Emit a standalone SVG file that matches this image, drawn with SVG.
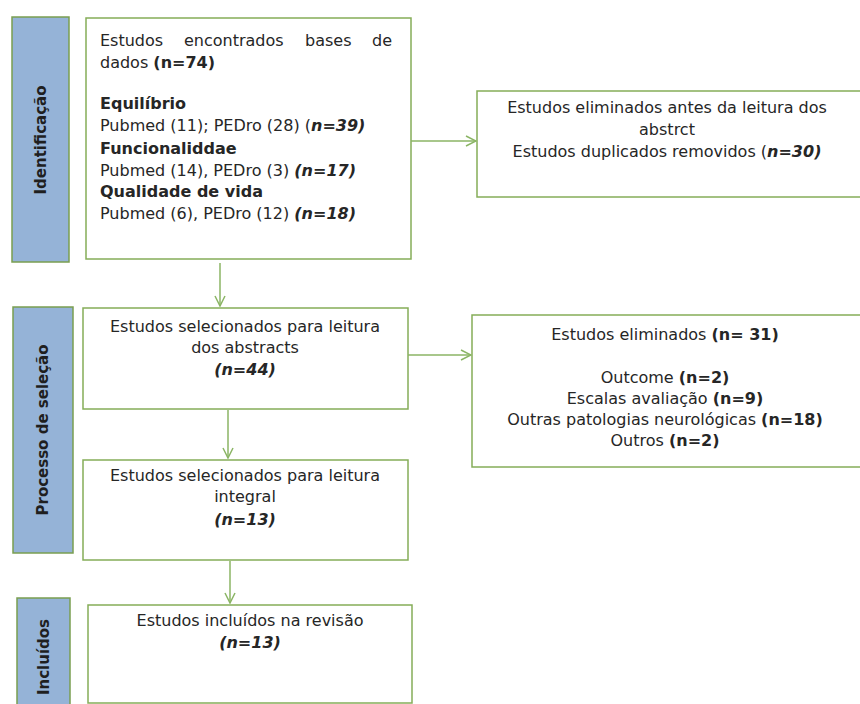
<svg xmlns="http://www.w3.org/2000/svg" width="860" height="704" viewBox="0 0 860 704">
<defs>
<style>
.phase{fill:#95b3d7;stroke:#7a9e50;stroke-width:1.5}
.box{fill:#ffffff;stroke:#85ad58;stroke-width:1.5}
.t{font-family:"DejaVu Sans","Liberation Sans",Arial,sans-serif;font-size:16px;fill:#262626}
.c{text-anchor:middle}
.b{font-weight:bold}
.i{font-style:italic;font-weight:bold}
.pl{font-family:"DejaVu Sans","Liberation Sans",Arial,sans-serif;font-size:15px;font-weight:bold;fill:#1f1f1f;text-anchor:middle}
.conn{stroke:#8bb565;stroke-width:1.5;fill:none}
</style>
<marker id="arr" viewBox="0 0 12 12" refX="11" refY="6" markerWidth="12" markerHeight="12" markerUnits="userSpaceOnUse" orient="auto">
<path d="M1,1 L11,6 L1,11" fill="none" stroke="#8bb565" stroke-width="1.5"/>
</marker>
</defs>
<rect width="860" height="704" fill="#ffffff"/>
<g id="phase-identificacao">
<rect class="phase" x="12" y="17" width="57" height="245"/>
<text class="pl" transform="translate(46,140) rotate(-90)">Identificação</text>
</g>
<g id="phase-selecao">
<rect class="phase" x="13" y="307" width="60" height="246"/>
<text class="pl" transform="translate(48,430) rotate(-90)">Processo de seleção</text>
</g>
<g id="phase-incluidos">
<rect class="phase" x="17" y="598" width="53" height="120"/>
<text class="pl" transform="translate(49,657) rotate(-90)">Incluídos</text>
</g>
<g id="n-encontrados">
<rect class="box" x="86" y="18" width="325" height="241"/>
<text class="t" y="46"><tspan x="100">Estudos</tspan><tspan x="184">encontrados</tspan><tspan x="305">bases</tspan><tspan x="372">de</tspan></text>
<text class="t" x="100" y="68">dados <tspan class="b">(n=74)</tspan></text>
<text class="t b" x="100" y="109">Equilíbrio</text>
<text class="t" x="100" y="131">Pubmed (11); PEDro (28) (<tspan class="i">n=39)</tspan></text>
<text class="t b" x="100" y="154">Funcionaliddae</text>
<text class="t" x="100" y="176">Pubmed (14), PEDro (3) <tspan class="i">(n=17)</tspan></text>
<text class="t b" x="100" y="197">Qualidade de vida</text>
<text class="t" x="100" y="219">Pubmed (6), PEDro (12) <tspan class="i">(n=18)</tspan></text>
</g>
<g id="n-eliminados-antes">
<rect class="box" x="477" y="91" width="400" height="106"/>
<text class="t c" x="667" y="113">Estudos eliminados antes da leitura dos</text>
<text class="t c" x="667" y="135">abstrct</text>
<text class="t c" x="667" y="157">Estudos duplicados removidos (<tspan class="i">n=30)</tspan></text>
</g>
<g id="n-selecionados-abstracts">
<rect class="box" x="83" y="308" width="325" height="101"/>
<text class="t c" x="245" y="332">Estudos selecionados para leitura</text>
<text class="t c" x="245" y="353">dos abstracts</text>
<text class="t c i" x="245" y="375">(n=44)</text>
</g>
<g id="n-eliminados">
<rect class="box" x="472" y="315" width="405" height="152"/>
<text class="t c" x="665" y="340">Estudos eliminados <tspan class="b">(n= 31)</tspan></text>
<text class="t c" x="665" y="383">Outcome <tspan class="b">(n=2)</tspan></text>
<text class="t c" x="665" y="404">Escalas avaliação <tspan class="b">(n=9)</tspan></text>
<text class="t c" x="665" y="425">Outras patologias neurológicas <tspan class="b">(n=18)</tspan></text>
<text class="t c" x="665" y="446">Outros <tspan class="b">(n=2)</tspan></text>
</g>
<g id="n-selecionados-integral">
<rect class="box" x="83" y="460" width="325" height="100"/>
<text class="t c" x="245" y="481">Estudos selecionados para leitura</text>
<text class="t c" x="245" y="502">integral</text>
<text class="t c i" x="245" y="525">(n=13)</text>
</g>
<g id="n-incluidos">
<rect class="box" x="88" y="605" width="324" height="98"/>
<text class="t c" x="250" y="626">Estudos incluídos na revisão</text>
<text class="t c i" x="250" y="648">(n=13)</text>
</g>
<g id="connectors">
<line class="conn" x1="411" y1="141" x2="476" y2="141" marker-end="url(#arr)"/>
<line class="conn" x1="220" y1="263" x2="220" y2="306" marker-end="url(#arr)"/>
<line class="conn" x1="408" y1="355" x2="471" y2="355" marker-end="url(#arr)"/>
<line class="conn" x1="228" y1="410" x2="228" y2="458" marker-end="url(#arr)"/>
<line class="conn" x1="230" y1="561" x2="230" y2="603" marker-end="url(#arr)"/>
</g>
</svg>
